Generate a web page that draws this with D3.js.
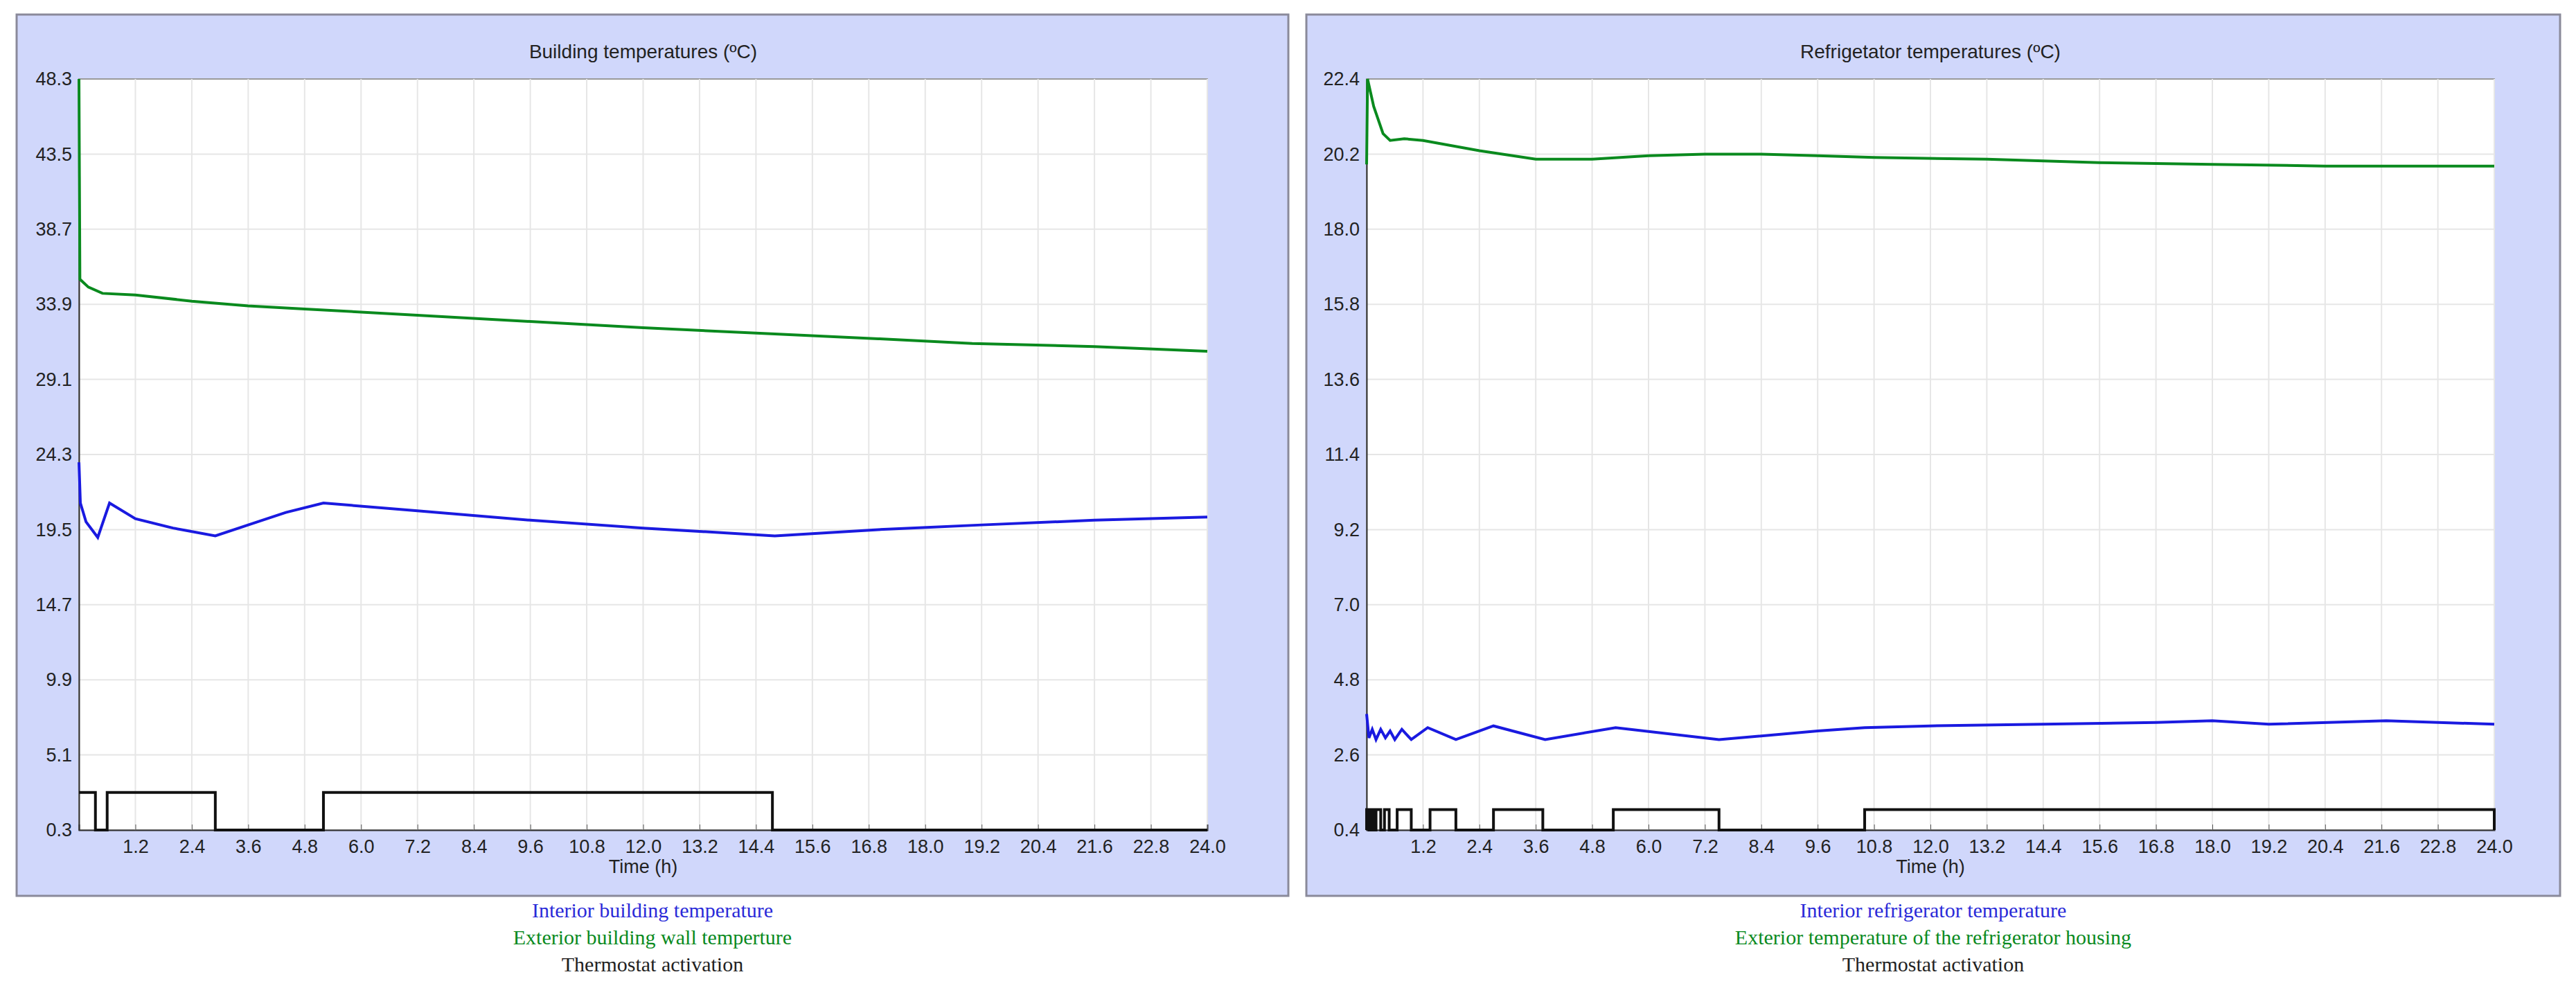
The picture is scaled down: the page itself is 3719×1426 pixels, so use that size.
<!DOCTYPE html>
<html><head><meta charset="utf-8">
<script src="https://cdn.jsdelivr.net/npm/d3@7"></script>
<style>body{margin:0;background:#fff}</style></head>
<body><svg id="c" width="3719" height="1426"></svg>
<script>
const xTicks = d3.range(1,21).map(i=>+(i*1.2).toFixed(1));
const leftYTicks = [0.3,5.1,9.9,14.7,19.5,24.3,29.1,33.9,38.7,43.5,48.3];
const rightYTicks = [0.4,2.6,4.8,7.0,9.2,11.4,13.6,15.8,18.0,20.2,22.4];

const bGreen = [[0,48.3],[0.02,35.5],[0.2,35.0],[0.5,34.6],[1.2,34.5],[2.4,34.1],[3.6,33.8],[4.8,33.6],[7.2,33.2],[9.6,32.8],[12,32.4],[14.8,32.0],[17,31.7],[19,31.4],[21.6,31.2],[24,30.9]];
const bBlue = [[0,23.8],[0.03,21.2],[0.15,20.0],[0.4,19.0],[0.65,21.2],[1.2,20.2],[2.0,19.6],[2.9,19.1],[3.6,19.8],[4.4,20.6],[5.2,21.2],[7.2,20.7],[9.6,20.1],[12,19.6],[14.8,19.1],[17,19.5],[19.2,19.8],[21.6,20.1],[24,20.3]];
const bThermo = [[0,2.7],[0.35,2.7],[0.35,0.3],[0.6,0.3],[0.6,2.7],[2.9,2.7],[2.9,0.3],[5.2,0.3],[5.2,2.7],[14.75,2.7],[14.75,0.3],[24,0.3]];

const rGreen = [[0,19.9],[0.02,22.4],[0.15,21.6],[0.35,20.8],[0.5,20.6],[0.8,20.65],[1.2,20.6],[2.4,20.3],[3.6,20.05],[4.8,20.05],[6.0,20.15],[7.2,20.2],[8.4,20.2],[9.6,20.15],[10.8,20.1],[13.2,20.05],[15.6,19.95],[18,19.9],[20.4,19.85],[24,19.85]];
const rBlue = [[0,3.8],[0.05,3.1],[0.12,3.35],[0.2,3.05],[0.3,3.35],[0.4,3.1],[0.5,3.3],[0.6,3.05],[0.75,3.35],[0.95,3.05],[1.3,3.4],[1.9,3.05],[2.7,3.45],[3.8,3.05],[5.3,3.4],[7.5,3.05],[9.6,3.3],[10.6,3.4],[12,3.45],[14.4,3.5],[16.8,3.55],[18,3.6],[19.2,3.5],[21.7,3.6],[24,3.5]];
const rOn = [[0,0.05],[0.1,0.15],[0.2,0.3],[0.38,0.48],[0.65,0.95],[1.35,1.9],[2.7,3.75],[5.25,7.5],[10.6,24]];
const rHigh = 1.0, rLow = 0.4;
const rThermo = [[0,rLow]];
rOn.forEach(([a,b])=>{rThermo.push([a,rLow],[a,rHigh],[b,rHigh],[b,rLow]);});
rThermo.push([24,rLow]);

const svg = d3.select("#c");
function panel(px, pw, plotL, plotR, title, yTicks, series, legend){
  const g = svg.append("g");
  g.append("rect").attr("x",px).attr("y",21).attr("width",pw).attr("height",1272)
   .attr("fill","#d0d7fb").attr("stroke","#8a8a9a").attr("stroke-width",3);
  const top=114, bot=1198;
  g.append("rect").attr("x",plotL).attr("y",top).attr("width",plotR-plotL).attr("height",bot-top).attr("fill","#fff").attr("stroke","#999").attr("stroke-width",2);
  const x=d3.scaleLinear().domain([0,24]).range([plotL,plotR]);
  const y=d3.scaleLinear().domain([yTicks[0],yTicks[yTicks.length-1]]).range([bot,top]);
  g.selectAll(".vg").data(xTicks).join("line").attr("x1",d=>x(d)).attr("x2",d=>x(d)).attr("y1",top).attr("y2",bot).attr("stroke","#e6e6e6").attr("stroke-width",2);
  g.selectAll(".hg").data(yTicks.slice(1,-1)).join("line").attr("x1",plotL).attr("x2",plotR).attr("y1",d=>y(d)).attr("y2",d=>y(d)).attr("stroke","#e6e6e6").attr("stroke-width",2);
  const xa=g.append("g").attr("transform",`translate(0,${bot})`).call(d3.axisBottom(x).tickValues(xTicks).tickFormat(d3.format(".1f")).tickSize(-8).tickPadding(14));
  xa.select(".domain").attr("stroke","#333").attr("stroke-width",2);
  xa.selectAll("text").attr("font-size",27).attr("font-family","Arial, Liberation Sans, sans-serif").attr("fill","#222");
  xa.selectAll("line").attr("stroke","#555");
  const ya=g.append("g").attr("transform",`translate(${plotL},0)`).call(d3.axisLeft(y).tickValues(yTicks).tickFormat(d3.format(".1f")).tickSize(0).tickPadding(10));
  ya.select(".domain").attr("stroke","#333").attr("stroke-width",2);
  ya.selectAll("text").attr("font-size",27).attr("font-family","Arial, Liberation Sans, sans-serif").attr("fill","#222");
  g.append("text").attr("x",(plotL+plotR)/2).attr("y",84).attr("text-anchor","middle").attr("font-size",28).attr("font-family","Arial, Liberation Sans, sans-serif").attr("fill","#222").text(title);
  g.append("text").attr("x",(plotL+plotR)/2).attr("y",1260).attr("text-anchor","middle").attr("font-size",27).attr("font-family","Arial, Liberation Sans, sans-serif").attr("fill","#222").text("Time (h)");
  const line=d3.line().x(d=>x(d[0])).y(d=>y(d[1]));
  series.forEach(s=>g.append("path").datum(s.data).attr("d",line).attr("fill","none").attr("stroke",s.color).attr("stroke-width",s.w));
  legend.forEach((l,i)=>g.append("text").attr("x",px+pw/2).attr("y",1324+i*39).attr("text-anchor","middle").attr("font-size",30).attr("font-family","Liberation Serif, DejaVu Serif, serif").attr("fill",l.color).text(l.text));
}
panel(24,1836,114,1743,"Building temperatures (ºC)",leftYTicks,
 [{data:bThermo,color:"#111",w:4},{data:bGreen,color:"#0a8a1e",w:4},{data:bBlue,color:"#1a1ae0",w:4}],
 [{text:"Interior building temperature",color:"#2a2ad8"},{text:"Exterior building wall temperture",color:"#0a8a1e"},{text:"Thermostat activation",color:"#222"}]);
panel(1886,1810,1973,3601,"Refrigetator temperatures (ºC)",rightYTicks,
 [{data:rThermo,color:"#111",w:4},{data:rGreen,color:"#0a8a1e",w:4},{data:rBlue,color:"#1a1ae0",w:4}],
 [{text:"Interior refrigerator temperature",color:"#2a2ad8"},{text:"Exterior temperature of the refrigerator housing",color:"#0a8a1e"},{text:"Thermostat activation",color:"#222"}]);
</script></body></html>
